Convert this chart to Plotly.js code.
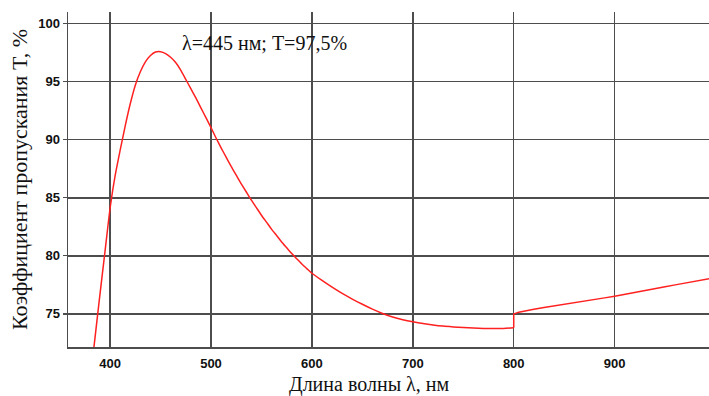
<!DOCTYPE html>
<html>
<head>
<meta charset="utf-8">
<script src="https://cdn.plot.ly/plotly-3.0.1.min.js"></script>
<style>html,body{margin:0;padding:0;background:#fff;}#chart{width:709px;height:396px;}</style>
</head>
<body>
<div id="chart"></div>
<script>
// Wavelength (nm) and transmittance T (%)
// Part 1: 384–800 nm (smooth interference curve)
const wavelength1 = [384, 385, 390, 395, 400, 405, 410, 415, 420, 425, 430, 435, 440, 445, 450, 455, 460, 465,
  470, 475, 480, 485, 490, 495, 500, 505, 510, 515, 520, 525, 530, 535, 540, 545, 550, 555, 560, 565, 570, 575,
  580, 585, 590, 595, 600, 610, 620, 630, 640, 650, 660, 670, 680, 690, 700, 710, 720, 730, 740, 750, 760, 770,
  780, 790, 800];
const transmittance1 = [72.15, 72.9, 76.7, 80.4, 84.1, 86.9, 89.1, 91.2, 93.1, 94.7, 95.85, 96.7, 97.25, 97.55, 97.58, 97.42, 97.1, 96.65,
  96.0, 95.2, 94.4, 93.6, 92.75, 91.9, 91.05, 90.15, 89.3, 88.5, 87.7, 86.95, 86.2, 85.5, 84.8, 84.15, 83.5, 82.9, 82.3, 81.75, 81.2, 80.7,
  80.2, 79.75, 79.3, 78.9, 78.5, 77.88, 77.3, 76.76, 76.28, 75.83, 75.41, 75.04, 74.73, 74.5, 74.32, 74.17, 74.05, 73.95, 73.88, 73.82, 73.78, 73.75,
  73.74, 73.75, 73.8];
// Part 2: 800–995 nm (after detector change)
const wavelength2 = [800, 800, 805, 810, 820, 830, 840, 850, 860, 870, 880, 890, 900, 910, 920, 930, 940, 950, 960, 970, 980, 990, 995];
const transmittance2 = [73.8, 75.0, 75.15, 75.25, 75.4, 75.55, 75.68, 75.82, 75.96, 76.1, 76.24, 76.38, 76.53, 76.68, 76.84, 77.0, 77.17, 77.34, 77.5, 77.66, 77.82, 77.98, 78.06];
const xTicks = [400, 500, 600, 700, 800, 900];
const yTicks = [75, 80, 85, 90, 95, 100];
const xTitle = 'Длина волны λ, нм';
const yTitle = 'Коэффициент пропускания T, %';
const peakLabel = 'λ=445 нм; T=97,5%';

const gridColor = '#4d4d4d';
const curveColor = '#ff2020';
const tickFont = {family: 'Liberation Sans, Arial, sans-serif', size: 13, color: '#111', weight: 'bold'};
const serif = 'Liberation Serif, Times New Roman, serif';

Plotly.newPlot('chart', [
  {x: wavelength1, y: transmittance1, type: 'scatter', mode: 'lines',
   line: {color: curveColor, width: 1.5, shape: 'spline', smoothing: 0.6}, hoverinfo: 'skip', showlegend: false},
  {x: wavelength2, y: transmittance2, type: 'scatter', mode: 'lines',
   line: {color: curveColor, width: 1.5}, hoverinfo: 'skip', showlegend: false}
], {
  width: 709, height: 396,
  margin: {l: 68, r: 0, t: 12, b: 49},
  paper_bgcolor: '#fff', plot_bgcolor: '#fff',
  font: {family: serif, color: '#111'},
  xaxis: {
    range: [358.3, 993.5], tickvals: xTicks, ticktext: xTicks.map(String),
    showgrid: true, gridcolor: gridColor, gridwidth: 1.5,
    showline: true, linecolor: gridColor, linewidth: 1.5,
    ticks: '', ticklabelstandoff: 4, tickfont: tickFont, zeroline: false
  },
  yaxis: {
    range: [72.15, 101.0], tickvals: yTicks, ticktext: yTicks.map(String),
    showgrid: true, gridcolor: gridColor, gridwidth: 1.5,
    showline: true, linecolor: gridColor, linewidth: 1.5,
    ticks: 'outside', ticklen: 4, tickcolor: gridColor, tickwidth: 1.2,
    tickfont: tickFont, zeroline: false,
    title: {text: yTitle, font: {family: serif, size: 22, color: '#111'}, standoff: 4}
  },
  annotations: [
    {text: peakLabel, xref: 'paper', yref: 'paper', x: (264 - 68) / 641, y: (347 - 43) / 335,
     xanchor: 'center', yanchor: 'middle', showarrow: false, font: {family: serif, size: 20, color: '#111'}},
    {text: xTitle, xref: 'paper', yref: 'paper', x: (369 - 68) / 641, y: (347 - 384) / 335,
     xanchor: 'center', yanchor: 'middle', showarrow: false, font: {family: serif, size: 20, color: '#111'}}
  ]
}, {staticPlot: true, displayModeBar: false});
</script>
</body>
</html>
